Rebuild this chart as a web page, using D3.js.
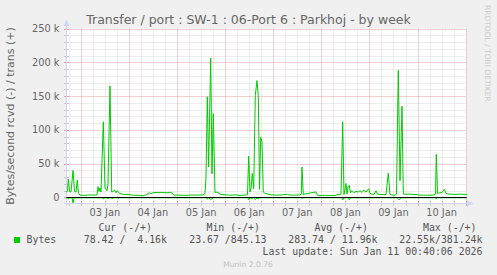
<!DOCTYPE html>
<html>
<head>
<meta charset="utf-8">
<script src="https://cdn.jsdelivr.net/npm/d3@7"></script>
<style>
  html, body { margin: 0; padding: 0; background: #f0f0f0; }
  svg { display: block; }
</style>
</head>
<body>
<div id="chart"></div>
<script>
const width = 497;
const height = 275;

// hours after 03 Jan 00:00, values in k (bytes/s)
const transHours = [-7.3, -6.58, -6.18, -5.59, -4.84, -3.84, -3.09, -2.34, -1.7, -1.1, -0.35, 2.14, 4.64, 7.63,
  8.13, 8.63, 9.13, 9.63, 10.12, 11.27, 12.12, 13.12, 13.62, 14.61, 15.46, 16.11, 16.86, 17.61, 18.1, 18.85,
  19.6, 20.6, 22.09, 24.59, 26.08, 28.58, 30.57, 32.07, 33.07, 34.06, 35.06, 36.06, 38.55, 41.05, 43.04,
  44.54, 45.54, 46.53, 49.53, 52.52, 55.51, 58.5, 61.0, 62.0, 62.49, 63.14, 63.79, 64.84, 65.49, 66.13,
  66.98, 67.98, 68.98, 69.98, 71.97, 74.46, 76.96, 79.45, 81.95, 83.19, 83.79, 84.44, 84.94, 85.59, 86.28,
  87.08, 87.93, 88.58, 89.18, 89.78, 90.42, 91.07, 91.92, 92.92, 94.41, 96.91, 99.4, 103.14, 103.89, 106.88,
  109.38, 110.02, 110.37, 111.02, 112.37, 114.36, 115.86, 117.36, 118.1, 119.35, 121.85, 124.34, 126.84,
  128.33, 129.83, 130.67, 131.32, 132.32, 132.82, 133.32, 133.97, 134.56, 135.31, 136.31, 137.31, 138.3,
  139.3, 140.3, 141.3, 142.29, 143.64, 144.29, 145.29, 146.28, 147.28, 148.03, 149.28, 150.77, 152.27,
  153.42, 154.26, 155.76, 156.76, 157.51, 158.4, 159.25, 160.25, 160.9, 161.75, 164.24, 166.73, 169.23,
  171.72, 174.21, 176.21, 176.96, 177.36, 177.96, 179.2, 180.2, 181.35, 182.19, 183.69, 186.68, 189.18, 192.6];
const transK = [8, 10, 27, 9, 8, 40, 9, 8, 26, 6, 3.5, 3.2, 3.8, 3.5,
  4, 16, 9, 14, 8, 112, 14, 10, 20, 165, 8, 9, 11, 7, 10, 8,
  6, 5, 4.5, 4.2, 3.4, 3.2, 2.8, 3.4, 4.5, 7, 5.5, 7.2, 7.5, 7.5, 7,
  7.8, 6.5, 3.6, 3.4, 3.2, 3.6, 3.6, 3.8, 6, 30, 149, 45, 206, 35, 124,
  7.4, 8, 6, 4.5, 4, 3.4, 3.8, 3.2, 3.6, 4, 61, 8, 13, 35.5, 13,
  151, 173, 150, 12, 89, 82, 8, 6, 5.5, 4.2, 3.6, 3.6, 4.8, 3.6, 3.6,
  3.8, 5, 45, 4.5, 5.5, 6.5, 7.5, 8.2, 3.4, 3, 3.2, 2.8, 3,
  4.5, 5, 112, 4.5, 20.7, 5, 15, 18, 7, 10, 7, 9, 8,
  10, 7.5, 11, 8, 13, 6, 5, 4.5, 10, 5, 4.5, 4.2, 4.5,
  36, 4.5, 3.4, 3.4, 5, 188, 25, 135, 5, 4.9, 4.9, 4.5, 3.5,
  3.4, 3.4, 3.8, 5, 64, 6, 7, 7.5, 12, 6, 5, 4.6, 4.9, 4.5];

const rcvdHours = [-7.3, -6.6, -6.2, -5.6, -4.3, -3.84, -3.3, 10.8, 11.3, 11.9, 13.1, 13.6, 14.2, 15.3, 15.8,
  16.3, 18.4, 18.9, 19.4, 62.7, 63.1, 63.6, 64.8, 65.5, 66.2, 83.3, 83.8, 84.4, 85.6, 86.2, 87.1, 88.0,
  88.6, 89.2, 110.0, 110.4, 110.9, 130.2, 130.7, 131.3, 133.5, 134.0, 134.5, 157.9, 158.4, 159.2, 159.9,
  176.9, 177.4, 177.9, 192.6];
const rcvdK = [-0.4, -0.4, -2.5, -0.4, -0.4, -8, -0.5, -0.4, -2.5, -0.4, -0.4, -2, -0.4, -0.4, -2,
  -0.4, -0.4, -1.5, -0.4, -0.4, -2.5, -0.5, -2.5, -2, -0.4, -0.4, -3.5, -0.4, -2, -0.4, -3, -0.5,
  -2.5, -0.4, -0.4, -1.5, -0.4, -0.4, -3.5, -0.4, -0.4, -3.5, -0.4, -0.4, -2.5, -3, -0.4,
  -0.4, -2, -0.4, -0.4];

const yTicks = [0, 50, 100, 150, 200, 250];
const yTickLabels = ["0", "50 k", "100 k", "150 k", "200 k", "250 k"];

const legendHeads = ["Cur (-/+)", "Min (-/+)", "Avg (-/+)", "Max (-/+)"];
const legendValues = ["78.42 /  4.16k", "23.67 /845.13", "283.74 / 11.96k", "22.55k/381.24k"];

const base = new Date(2026, 0, 3).getTime();
const t0 = new Date(2026, 0, 2, 16, 40);
const t1 = new Date(2026, 0, 11, 0, 40);
const hr = h => new Date(base + h * 3600e3);

const green = "#00cc00";
const fontCol = "#666666";
const axisCol = "#cfd6f8";
const minorCol = "#dadada";
const majorCol = "#e0a0a0";

const svg = d3.select("#chart").append("svg")
  .attr("width", width)
  .attr("height", height);

svg.append("rect").attr("width", width).attr("height", height).attr("fill", "#f0f0f0");

const x = d3.scaleTime().domain([t0, t1]).range([66, 467]);
const y = d3.scaleLinear().domain([-8.876, 250]).range([203.5, 28.5]);
const px = v => Math.round(v) + 0.5;

// canvas
svg.append("rect")
  .attr("x", 66.5).attr("y", 28.5)
  .attr("width", 400).attr("height", 175)
  .attr("fill", "#ffffff");

const grid = svg.append("g");
const minorY = d3.range(10, 251, 10).filter(v => v % 50 !== 0);
const hours6 = d3.timeHour.every(6).range(t0, t1);
const days = d3.timeDay.range(t0, t1);

grid.selectAll(".vmin").data(hours6.filter(d => d.getHours() !== 0)).join("line")
  .attr("x1", d => px(x(d))).attr("x2", d => px(x(d)))
  .attr("y1", 28.5).attr("y2", 203.5)
  .attr("stroke", minorCol).attr("stroke-dasharray", "1,1");
grid.selectAll(".hmin").data(minorY).join("line")
  .attr("x1", 66.5).attr("x2", 466.5)
  .attr("y1", d => px(y(d))).attr("y2", d => px(y(d)))
  .attr("stroke", minorCol).attr("stroke-dasharray", "1,1");
grid.selectAll(".vmaj").data(days).join("line")
  .attr("x1", d => px(x(d))).attr("x2", d => px(x(d)))
  .attr("y1", 28.5).attr("y2", 203.5)
  .attr("stroke", majorCol).attr("stroke-dasharray", "1,1");
grid.selectAll(".hmaj").data(yTicks.filter(v => v > 0)).join("line")
  .attr("x1", 66.5).attr("x2", 466.5)
  .attr("y1", d => px(y(d))).attr("y2", d => px(y(d)))
  .attr("stroke", majorCol).attr("stroke-dasharray", "1,1");

// ticks on axes
svg.selectAll(".xt").data(hours6).join("line")
  .attr("x1", d => px(x(d))).attr("x2", d => px(x(d)))
  .attr("y1", 201).attr("y2", 206)
  .attr("stroke", d => d.getHours() === 0 ? majorCol : "#c8c8c8");
svg.selectAll(".yt").data(d3.range(0, 251, 10)).join("line")
  .attr("x1", 64).attr("x2", 69)
  .attr("y1", d => px(y(d))).attr("y2", d => px(y(d)))
  .attr("stroke", d => d % 50 === 0 ? majorCol : "#c8c8c8");

// axes with arrows
svg.append("line").attr("x1", 64).attr("x2", 469).attr("y1", 203.5).attr("y2", 203.5).attr("stroke", axisCol);
svg.append("line").attr("x1", 66.5).attr("x2", 66.5).attr("y1", 206).attr("y2", 24).attr("stroke", axisCol);
svg.append("path").attr("d", "M467,200.5L473.5,203.5L467,206.5Z").attr("fill", axisCol);
svg.append("path").attr("d", "M63.5,26L66.5,19.5L69.5,26Z").attr("fill", axisCol);

// series
const line = d3.line().x(d => x(d[0])).y(d => y(d[1]));
const clip = svg.append("clipPath").attr("id", "c").append("rect")
  .attr("x", 66).attr("y", 20).attr("width", 401).attr("height", 184);

svg.append("path")
  .datum(rcvdHours.map((h, i) => [hr(h), rcvdK[i]]))
  .attr("clip-path", "url(#c)")
  .attr("d", line).attr("fill", "none").attr("stroke", green).attr("stroke-width", 1);
svg.append("path")
  .datum(transHours.map((h, i) => [hr(h), transK[i]]))
  .attr("clip-path", "url(#c)")
  .attr("d", line).attr("fill", "none").attr("stroke", green).attr("stroke-width", 1);

// zero rule
svg.append("line").attr("x1", 66.5).attr("x2", 466.5)
  .attr("y1", px(y(0))).attr("y2", px(y(0)))
  .attr("stroke", "#000000");

// tick labels
svg.selectAll(".yl").data(yTicks).join("text")
  .attr("x", 59.5).attr("y", d => y(d)).attr("dy", "0.36em")
  .attr("text-anchor", "end")
  .style("font", "9.8px 'DejaVu Sans'").style("fill", fontCol)
  .text((d, i) => yTickLabels[i]);

const noons = days.map(d => new Date(d.getTime() + 12 * 3600e3)).filter(d => d > t0 && d < t1);
svg.selectAll(".xl").data(noons).join("text")
  .attr("x", d => x(d))
  .attr("y", 216)
  .attr("text-anchor", "middle")
  .style("font", "9.8px 'DejaVu Sans'").style("fill", fontCol)
  .text(d => d3.timeFormat("%d %b")(d));

// title and axis title
svg.append("text")
  .attr("x", 248.5).attr("y", 23.5)
  .attr("text-anchor", "middle")
  .style("font", "12.5px 'DejaVu Sans'").style("fill", fontCol)
  .text("Transfer / port : SW-1 : 06-Port 6 : Parkhoj - by week");

svg.append("text")
  .attr("transform", "translate(14,116) rotate(-90)")
  .attr("text-anchor", "middle")
  .style("font", "11px 'DejaVu Sans'").style("fill", fontCol)
  .text("Bytes/second rcvd (-) / trans (+)");

svg.append("text")
  .attr("transform", "translate(485,5) rotate(90)")
  .style("font", "7.5px 'DejaVu Sans'").style("fill", "#cccccc")
  .text("RRDTOOL / TOBI OETIKER");

// legend
const mono = "9.9px 'DejaVu Sans Mono'";
const headEnds = [152, 260, 368, 476.5];
const valEnds = [167, 266.5, 377.5, 482.5];
svg.selectAll(".lh").data(legendHeads).join("text")
  .attr("x", (d, i) => headEnds[i]).attr("y", 230.5)
  .attr("text-anchor", "end")
  .style("font", mono).style("fill", "#555555")
  .style("white-space", "pre")
  .text(d => d);
svg.append("rect").attr("x", 14).attr("y", 237).attr("width", 6).attr("height", 6).attr("fill", green);
svg.append("text").attr("x", 26.5).attr("y", 242.5)
  .style("font", mono).style("fill", "#555555").text("Bytes");
svg.selectAll(".lv").data(legendValues).join("text")
  .attr("x", (d, i) => valEnds[i]).attr("y", 242.5)
  .attr("text-anchor", "end")
  .attr("xml:space", "preserve")
  .style("white-space", "pre")
  .style("font", mono).style("fill", "#555555")
  .text(d => d);
svg.append("text").attr("x", 482.5).attr("y", 254.5)
  .attr("text-anchor", "end")
  .style("font", mono).style("fill", "#555555")
  .text("Last update: Sun Jan 11 00:40:06 2026");

svg.append("text").attr("x", 248).attr("y", 266.5)
  .attr("text-anchor", "middle")
  .style("font", "7.6px 'DejaVu Sans'").style("fill", "#c0c0c0")
  .text("Munin 2.0.76");
</script>
</body>
</html>
